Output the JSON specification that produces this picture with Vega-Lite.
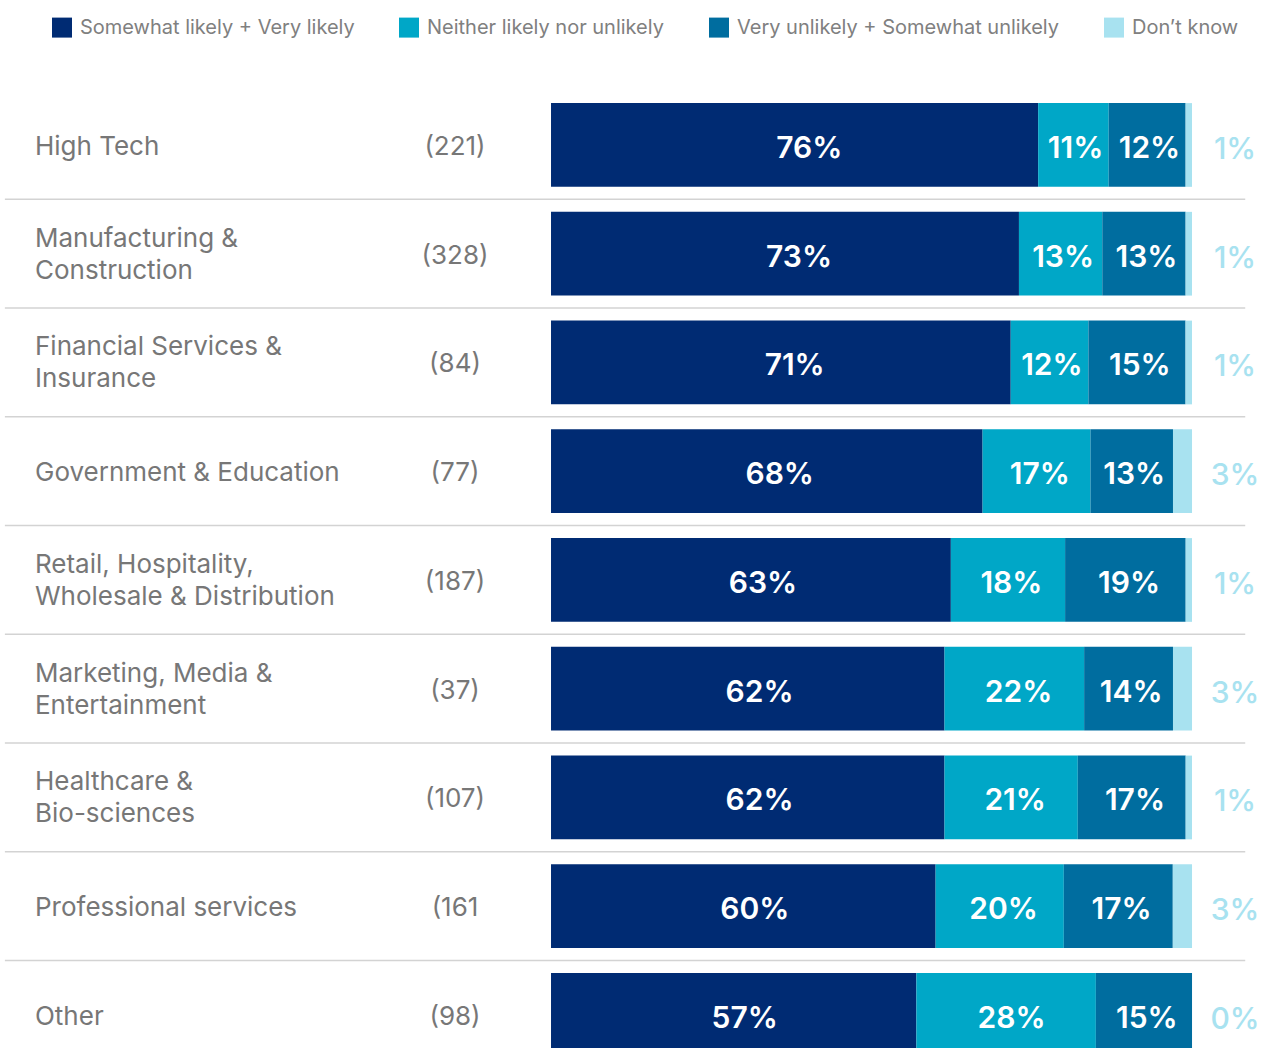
{
  "$schema": "https://vega.github.io/schema/vega-lite/v6.json",
  "width": 1261,
  "height": 978.75,
  "autosize": {"type": "none"},
  "padding": {"left": 0, "top": 90.6, "right": 0, "bottom": 0},
  "background": "#ffffff",
  "config": {"view": {"stroke": null}, "font": "Inter"},
  "datasets": {
    "seg": [
      {"ind": "High Tech", "cat": "Somewhat likely + Very likely", "o": 1, "value": 0.76, "lbl": "76%"},
      {"ind": "High Tech", "cat": "Neither likely nor unlikely", "o": 2, "value": 0.11, "lbl": "11%"},
      {"ind": "High Tech", "cat": "Very unlikely + Somewhat unlikely", "o": 3, "value": 0.12, "lbl": "12%"},
      {"ind": "High Tech", "cat": "Don’t know", "o": 4, "value": 0.01, "lbl": ""},
      {"ind": "Manufacturing & Construction", "cat": "Somewhat likely + Very likely", "o": 1, "value": 0.73, "lbl": "73%"},
      {"ind": "Manufacturing & Construction", "cat": "Neither likely nor unlikely", "o": 2, "value": 0.13, "lbl": "13%"},
      {"ind": "Manufacturing & Construction", "cat": "Very unlikely + Somewhat unlikely", "o": 3, "value": 0.13, "lbl": "13%"},
      {"ind": "Manufacturing & Construction", "cat": "Don’t know", "o": 4, "value": 0.01, "lbl": ""},
      {"ind": "Financial Services & Insurance", "cat": "Somewhat likely + Very likely", "o": 1, "value": 0.71, "lbl": "71%"},
      {"ind": "Financial Services & Insurance", "cat": "Neither likely nor unlikely", "o": 2, "value": 0.12, "lbl": "12%"},
      {"ind": "Financial Services & Insurance", "cat": "Very unlikely + Somewhat unlikely", "o": 3, "value": 0.15, "lbl": "15%"},
      {"ind": "Financial Services & Insurance", "cat": "Don’t know", "o": 4, "value": 0.01, "lbl": ""},
      {"ind": "Government & Education", "cat": "Somewhat likely + Very likely", "o": 1, "value": 0.68, "lbl": "68%"},
      {"ind": "Government & Education", "cat": "Neither likely nor unlikely", "o": 2, "value": 0.17, "lbl": "17%"},
      {"ind": "Government & Education", "cat": "Very unlikely + Somewhat unlikely", "o": 3, "value": 0.13, "lbl": "13%"},
      {"ind": "Government & Education", "cat": "Don’t know", "o": 4, "value": 0.03, "lbl": ""},
      {"ind": "Retail, Hospitality, Wholesale & Distribution", "cat": "Somewhat likely + Very likely", "o": 1, "value": 0.63, "lbl": "63%"},
      {"ind": "Retail, Hospitality, Wholesale & Distribution", "cat": "Neither likely nor unlikely", "o": 2, "value": 0.18, "lbl": "18%"},
      {"ind": "Retail, Hospitality, Wholesale & Distribution", "cat": "Very unlikely + Somewhat unlikely", "o": 3, "value": 0.19, "lbl": "19%"},
      {"ind": "Retail, Hospitality, Wholesale & Distribution", "cat": "Don’t know", "o": 4, "value": 0.01, "lbl": ""},
      {"ind": "Marketing, Media & Entertainment", "cat": "Somewhat likely + Very likely", "o": 1, "value": 0.62, "lbl": "62%"},
      {"ind": "Marketing, Media & Entertainment", "cat": "Neither likely nor unlikely", "o": 2, "value": 0.22, "lbl": "22%"},
      {"ind": "Marketing, Media & Entertainment", "cat": "Very unlikely + Somewhat unlikely", "o": 3, "value": 0.14, "lbl": "14%"},
      {"ind": "Marketing, Media & Entertainment", "cat": "Don’t know", "o": 4, "value": 0.03, "lbl": ""},
      {"ind": "Healthcare & Bio-sciences", "cat": "Somewhat likely + Very likely", "o": 1, "value": 0.62, "lbl": "62%"},
      {"ind": "Healthcare & Bio-sciences", "cat": "Neither likely nor unlikely", "o": 2, "value": 0.21, "lbl": "21%"},
      {"ind": "Healthcare & Bio-sciences", "cat": "Very unlikely + Somewhat unlikely", "o": 3, "value": 0.17, "lbl": "17%"},
      {"ind": "Healthcare & Bio-sciences", "cat": "Don’t know", "o": 4, "value": 0.01, "lbl": ""},
      {"ind": "Professional services", "cat": "Somewhat likely + Very likely", "o": 1, "value": 0.60, "lbl": "60%"},
      {"ind": "Professional services", "cat": "Neither likely nor unlikely", "o": 2, "value": 0.20, "lbl": "20%"},
      {"ind": "Professional services", "cat": "Very unlikely + Somewhat unlikely", "o": 3, "value": 0.17, "lbl": "17%"},
      {"ind": "Professional services", "cat": "Don’t know", "o": 4, "value": 0.03, "lbl": ""},
      {"ind": "Other", "cat": "Somewhat likely + Very likely", "o": 1, "value": 0.57, "lbl": "57%"},
      {"ind": "Other", "cat": "Neither likely nor unlikely", "o": 2, "value": 0.28, "lbl": "28%"},
      {"ind": "Other", "cat": "Very unlikely + Somewhat unlikely", "o": 3, "value": 0.15, "lbl": "15%"},
      {"ind": "Other", "cat": "Don’t know", "o": 4, "value": 0.00, "lbl": ""}
    ],
    "rows": [
      {"ind": "High Tech", "label": "High Tech", "n": "(221)", "dk": "1%"},
      {"ind": "Manufacturing & Construction", "label": "Manufacturing &\nConstruction", "n": "(328)", "dk": "1%"},
      {"ind": "Financial Services & Insurance", "label": "Financial Services &\nInsurance", "n": "(84)", "dk": "1%"},
      {"ind": "Government & Education", "label": "Government & Education", "n": "(77)", "dk": "3%"},
      {"ind": "Retail, Hospitality, Wholesale & Distribution", "label": "Retail, Hospitality,\nWholesale & Distribution", "n": "(187)", "dk": "1%"},
      {"ind": "Marketing, Media & Entertainment", "label": "Marketing, Media &\nEntertainment", "n": "(37)", "dk": "3%"},
      {"ind": "Healthcare & Bio-sciences", "label": "Healthcare &\nBio-sciences", "n": "(107)", "dk": "1%"},
      {"ind": "Professional services", "label": "Professional services", "n": "(161", "dk": "3%"},
      {"ind": "Other", "label": "Other", "n": "(98)", "dk": "0%"}
    ]
  },
  "layer": [
    {
      "data": {"name": "seg"},
      "mark": {"type": "bar", "height": {"band": 0.77}},
      "encoding": {
        "y": {
          "field": "ind",
          "type": "nominal",
          "axis": null,
          "scale": {
            "domain": ["High Tech", "Manufacturing & Construction", "Financial Services & Insurance", "Government & Education", "Retail, Hospitality, Wholesale & Distribution", "Marketing, Media & Entertainment", "Healthcare & Bio-sciences", "Professional services", "Other"],
            "paddingInner": 0,
            "paddingOuter": 0
          }
        },
        "x": {
          "field": "value",
          "type": "quantitative",
          "stack": "normalize",
          "axis": null,
          "scale": {"domain": [-0.8596, 1.1076], "nice": false, "zero": false}
        },
        "order": {"field": "o", "type": "quantitative"},
        "color": {
          "field": "cat",
          "type": "nominal",
          "scale": {
            "domain": ["Somewhat likely + Very likely", "Neither likely nor unlikely", "Very unlikely + Somewhat unlikely", "Don’t know"],
            "range": ["#002b73", "#00a7c7", "#006d9f", "#a8e2f0"]
          },
          "legend": {
            "title": null,
            "orient": "none",
            "direction": "horizontal",
            "legendX": 52,
            "legendY": -73,
            "padding": 0,
            "symbolType": "square",
            "symbolSize": 400,
            "symbolStrokeWidth": 0,
            "symbolOpacity": 1,
            "labelFontSize": 20,
            "labelColor": "#808080",
            "labelFont": "Inter",
            "labelOffset": 8,
            "columnPadding": 44,
            "labelLimit": 400
          }
        }
      }
    },
    {
      "data": {"name": "seg"},
      "mark": {"type": "text", "fontSize": 30, "fontWeight": 600, "baseline": "middle", "align": "center", "dy": 4, "color": "#ffffff"},
      "encoding": {
        "y": {"field": "ind", "type": "nominal"},
        "x": {"field": "value", "type": "quantitative", "stack": "normalize", "bandPosition": 0.53},
        "order": {"field": "o", "type": "quantitative"},
        "text": {"field": "lbl", "type": "nominal"}
      }
    },
    {
      "data": {"name": "rows"},
      "mark": {"type": "rule", "color": "#d3d3d3", "strokeWidth": 1.5},
      "encoding": {
        "y": {"field": "ind", "type": "nominal", "bandPosition": 1},
        "x": {"datum": -0.852, "type": "quantitative"},
        "x2": {"datum": 1.083}
      }
    },
    {
      "data": {"name": "rows"},
      "mark": {"type": "text", "color": "#a8e2f0", "fontSize": 30, "fontWeight": 500, "baseline": "middle", "align": "center", "dy": 5},
      "encoding": {
        "y": {"field": "ind", "type": "nominal"},
        "x": {"datum": 1.0671, "type": "quantitative"},
        "text": {"field": "dk", "type": "nominal"}
      }
    },
    {
      "data": {"name": "rows"},
      "transform": [{"filter": "indexof(datum.label, '\\n') < 0"}],
      "mark": {"type": "text", "color": "#777777", "fontSize": 26, "align": "left", "baseline": "middle", "dy": 2},
      "encoding": {
        "y": {"field": "ind", "type": "nominal"},
        "x": {"datum": -0.805, "type": "quantitative"},
        "text": {"field": "label", "type": "nominal"}
      }
    },
    {
      "data": {"name": "rows"},
      "transform": [{"filter": "indexof(datum.label, '\\n') >= 0"}],
      "mark": {"type": "text", "color": "#777777", "fontSize": 26, "align": "left", "baseline": "middle", "lineBreak": "\n", "lineHeight": 32, "dy": -15},
      "encoding": {
        "y": {"field": "ind", "type": "nominal"},
        "x": {"datum": -0.805, "type": "quantitative"},
        "text": {"field": "label", "type": "nominal"}
      }
    },
    {
      "data": {"name": "rows"},
      "mark": {"type": "text", "color": "#777777", "fontSize": 26, "align": "center", "baseline": "middle", "dy": 2},
      "encoding": {
        "y": {"field": "ind", "type": "nominal"},
        "x": {"datum": -0.1498, "type": "quantitative"},
        "text": {"field": "n", "type": "nominal"}
      }
    }
  ]
}
